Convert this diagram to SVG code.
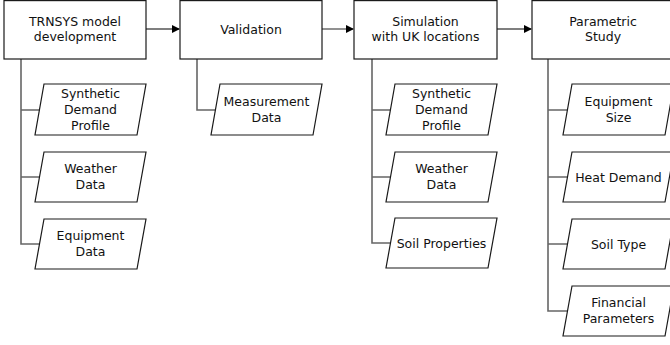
<svg xmlns="http://www.w3.org/2000/svg" width="670" height="345" viewBox="0 0 670 345">
<style>
.box{fill:#fff;stroke:#1a1a1a;stroke-width:1.2}
.io{fill:#fff;stroke:#1a1a1a;stroke-width:1.2}
.br{fill:none;stroke:#666;stroke-width:1.6}
.ar{fill:none;stroke:#555;stroke-width:1.3}
text{font-family:"DejaVu Sans",Verdana,sans-serif;font-size:12.5px;fill:#111;text-anchor:middle}
</style>
<defs>
<marker id="ah" markerWidth="8" markerHeight="8" refX="7" refY="4" orient="auto" markerUnits="userSpaceOnUse">
<path d="M0,0 L8,4 L0,8 z" fill="#000"/>
</marker>
</defs>
<rect width="670" height="345" fill="#fff"/>
<g id="connectors">
<path class="ar" d="M146,29 H179" marker-end="url(#ah)"/>
<path class="ar" d="M322,29 H353" marker-end="url(#ah)"/>
<path class="ar" d="M497,29 H531" marker-end="url(#ah)"/>
<path class="br" d="M21,59 V244 H40 M21,110 H40 M21,177 H40"/>
<path class="br" d="M197,59 V110 H215"/>
<path class="br" d="M372,59 V243 H390 M372,110 H390 M372,177 H390"/>
<path class="br" d="M548,59 V311 H567 M548,110 H567 M548,177 H567 M548,244 H567"/>
</g>
<g id="n1"><rect class="box" x="4" y="0.6" width="142" height="58.4"/><text x="75" y="26">TRNSYS model</text><text x="75" y="41">development</text></g>
<g id="n2"><rect class="box" x="180" y="0.6" width="142" height="58.4"/><text x="251" y="33.5">Validation</text></g>
<g id="n3"><rect class="box" x="354" y="0.6" width="143" height="58.4"/><text x="425.5" y="26">Simulation</text><text x="425.5" y="41">with UK locations</text></g>
<g id="n4"><rect class="box" x="532" y="0.6" width="142" height="58.4"/><text x="603" y="26">Parametric</text><text x="603" y="41">Study</text></g>

<g id="p1a"><polygon class="io" points="44,84 146,84 137,135 35,135"/><text x="90.5" y="98">Synthetic</text><text x="90.5" y="114">Demand</text><text x="90.5" y="130">Profile</text></g>
<g id="p1b"><polygon class="io" points="44,152 146,152 137,202 35,202"/><text x="90.5" y="173">Weather</text><text x="90.5" y="189">Data</text></g>
<g id="p1c"><polygon class="io" points="44,219 146,219 137,269 35,269"/><text x="90.5" y="240">Equipment</text><text x="90.5" y="256">Data</text></g>

<g id="p2a"><polygon class="io" points="220,84 322,84 313,135 211,135"/><text x="266.5" y="106">Measurement</text><text x="266.5" y="122">Data</text></g>

<g id="p3a"><polygon class="io" points="395,84 497,84 488,135 386,135"/><text x="441.5" y="98">Synthetic</text><text x="441.5" y="114">Demand</text><text x="441.5" y="130">Profile</text></g>
<g id="p3b"><polygon class="io" points="395,152 497,152 488,202 386,202"/><text x="441.5" y="173">Weather</text><text x="441.5" y="189">Data</text></g>
<g id="p3c"><polygon class="io" points="395,218 497,218 488,268 386,268"/><text x="441.5" y="247.5">Soil Properties</text></g>

<g id="p4a"><polygon class="io" points="572,84 674,84 665,135 563,135"/><text x="618.5" y="106">Equipment</text><text x="618.5" y="122">Size</text></g>
<g id="p4b"><polygon class="io" points="572,152 674,152 665,202 563,202"/><text x="618.5" y="181.5">Heat Demand</text></g>
<g id="p4c"><polygon class="io" points="572,219 674,219 665,269 563,269"/><text x="618.5" y="248.5">Soil Type</text></g>
<g id="p4d"><polygon class="io" points="572,286 674,286 665,336 563,336"/><text x="618.5" y="307">Financial</text><text x="618.5" y="323">Parameters</text></g>
</svg>
